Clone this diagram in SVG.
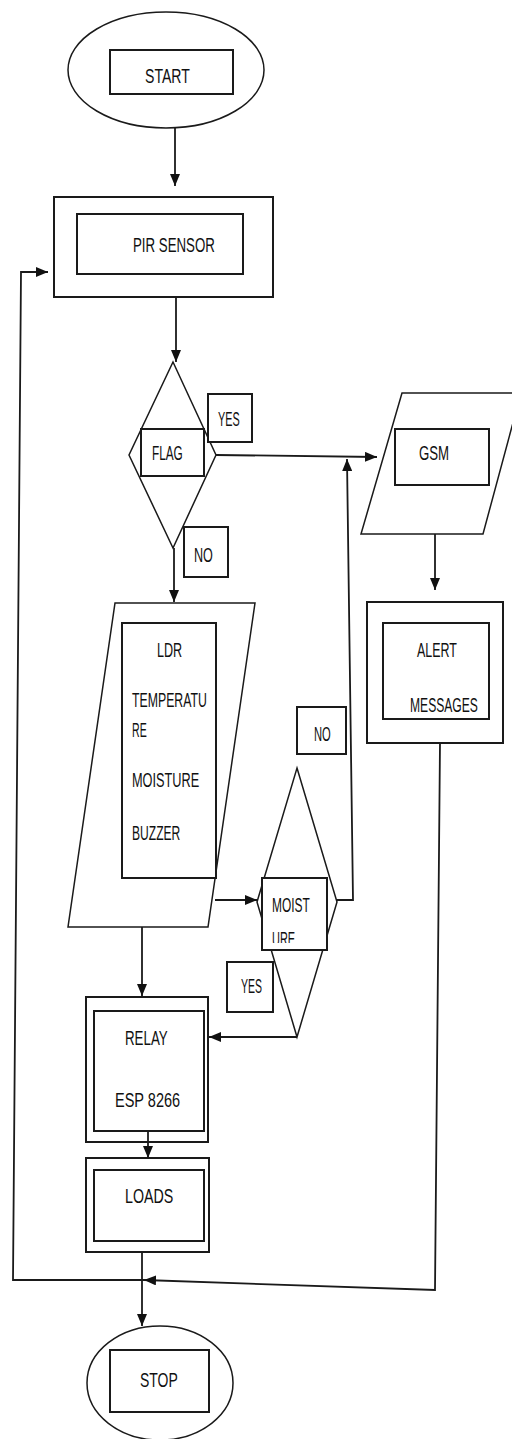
<svg xmlns="http://www.w3.org/2000/svg" width="512" height="1439" viewBox="0 0 512 1439">
<style>
.bg{fill:#fff}
.sh{fill:#fff;stroke:#1a1a1a;stroke-width:1.5}
.bx{fill:#fff;stroke:#1a1a1a;stroke-width:2}
.ln{fill:none;stroke:#1a1a1a;stroke-width:1.8}
.t{font-family:"Liberation Sans",Arial,sans-serif;font-size:21px;fill:#111}
</style>
<defs>
<marker id="ar" markerUnits="userSpaceOnUse" markerWidth="12" markerHeight="10" refX="12" refY="5" orient="auto">
<path d="M0,0 L12,5 L0,10 z" fill="#111"/>
</marker>
<clipPath id="mc"><rect x="262" y="878" width="65" height="65"/></clipPath>
</defs>
<rect class="bg" x="0" y="0" width="512" height="1439"/>

<g id="start">
<ellipse class="sh" cx="166" cy="70" rx="98" ry="58"/>
<rect class="bx" x="110" y="50" width="123" height="44"/>
<text class="t" transform="translate(145,83) scale(0.7,1)" textLength="64" lengthAdjust="spacingAndGlyphs">START</text>
</g>

<g id="pir">
<rect class="bx" x="54" y="197" width="219" height="100"/>
<rect class="bx" x="77" y="214" width="166" height="60"/>
<text class="t" transform="translate(133,252) scale(0.7,1)" textLength="117" lengthAdjust="spacingAndGlyphs">PIR SENSOR</text>
</g>

<g id="flag">
<polygon class="sh" points="173,362 216,455 173,548 129,455"/>
<rect class="bx" x="141" y="429" width="63" height="47"/>
<text class="t" transform="translate(152,460) scale(0.7,1)" textLength="44" lengthAdjust="spacingAndGlyphs">FLAG</text>
</g>

<g id="flag-yes">
<rect class="bx" x="208" y="394" width="44" height="48"/>
<text class="t" transform="translate(218,426) scale(0.7,1)" textLength="31" lengthAdjust="spacingAndGlyphs">YES</text>
</g>

<g id="flag-no">
<rect class="bx" x="184" y="527" width="44" height="50"/>
<text class="t" transform="translate(194,562) scale(0.7,1)" textLength="27" lengthAdjust="spacingAndGlyphs">NO</text>
</g>

<g id="gsm">
<polygon class="sh" points="402,393 521,393 483,534 361,534"/>
<rect class="bx" x="395" y="429" width="94" height="56"/>
<text class="t" transform="translate(419,460) scale(0.7,1)" textLength="43" lengthAdjust="spacingAndGlyphs">GSM</text>
</g>

<g id="alert">
<rect class="bx" x="367" y="602" width="136" height="141"/>
<rect class="bx" x="383" y="623" width="106" height="96"/>
<text class="t" transform="translate(417,657) scale(0.7,1)" textLength="57" lengthAdjust="spacingAndGlyphs">ALERT</text>
<text class="t" transform="translate(410,712) scale(0.7,1)" textLength="97" lengthAdjust="spacingAndGlyphs">MESSAGES</text>
</g>

<g id="sensors">
<polygon class="sh" points="115,603 255,603 208,927 68,927"/>
<rect class="bx" x="122" y="623" width="94" height="255"/>
<text class="t" transform="translate(157,657) scale(0.7,1)" textLength="36" lengthAdjust="spacingAndGlyphs">LDR</text>
<text class="t" transform="translate(132,707) scale(0.7,1)" textLength="107" lengthAdjust="spacingAndGlyphs">TEMPERATU</text>
<text class="t" transform="translate(132,737) scale(0.7,1)" textLength="21" lengthAdjust="spacingAndGlyphs">RE</text>
<text class="t" transform="translate(132,787) scale(0.7,1)" textLength="96" lengthAdjust="spacingAndGlyphs">MOISTURE</text>
<text class="t" transform="translate(132,840) scale(0.7,1)" textLength="69" lengthAdjust="spacingAndGlyphs">BUZZER</text>
</g>

<g id="moisture">
<polygon class="sh" points="297,768 337,902 297,1037 257,902"/>
<rect class="bx" x="262" y="878" width="65" height="72"/>
<text class="t" transform="translate(272,912) scale(0.7,1)" textLength="54" lengthAdjust="spacingAndGlyphs">MOIST</text>
<g clip-path="url(#mc)">
<text class="t" transform="translate(272,946) scale(0.7,1)" textLength="33" lengthAdjust="spacingAndGlyphs">URE</text>
</g>
</g>

<g id="moist-no">
<rect class="bx" x="297" y="707" width="49" height="47"/>
<text class="t" transform="translate(314,741) scale(0.7,1)" textLength="24" lengthAdjust="spacingAndGlyphs">NO</text>
</g>

<g id="moist-yes">
<rect class="bx" x="227" y="962" width="46" height="50"/>
<text class="t" transform="translate(241,993) scale(0.7,1)" textLength="30" lengthAdjust="spacingAndGlyphs">YES</text>
</g>

<g id="relay">
<rect class="bx" x="86" y="997" width="122" height="145"/>
<rect class="bx" x="94" y="1011" width="110" height="120"/>
<text class="t" transform="translate(125,1045) scale(0.7,1)" textLength="61" lengthAdjust="spacingAndGlyphs">RELAY</text>
<text class="t" transform="translate(115,1107) scale(0.7,1)" textLength="93" lengthAdjust="spacingAndGlyphs">ESP 8266</text>
</g>

<g id="loads">
<rect class="bx" x="86" y="1158" width="123" height="94"/>
<rect class="bx" x="94" y="1170" width="110" height="71"/>
<text class="t" transform="translate(125,1203) scale(0.7,1)" textLength="69" lengthAdjust="spacingAndGlyphs">LOADS</text>
</g>

<g id="stop">
<ellipse class="sh" cx="160" cy="1383" rx="73" ry="57"/>
<rect class="bx" x="110" y="1350" width="99" height="62"/>
<text class="t" transform="translate(140,1387) scale(0.7,1)" textLength="54" lengthAdjust="spacingAndGlyphs">STOP</text>
</g>

<g id="connectors">
<path class="ln" d="M175,128 L175,186" marker-end="url(#ar)"/>
<path class="ln" d="M176,297 L176,362" marker-end="url(#ar)"/>
<path class="ln" d="M216,455 L377,457" marker-end="url(#ar)"/>
<path class="ln" d="M174,548 L174,602" marker-end="url(#ar)"/>
<path class="ln" d="M435,534 L435,590" marker-end="url(#ar)"/>
<path class="ln" d="M215,900 L257,900" marker-end="url(#ar)"/>
<path class="ln" d="M337,900 L353,900 L347,459" marker-end="url(#ar)"/>
<path class="ln" d="M297,1037 L209,1037" marker-end="url(#ar)"/>
<path class="ln" d="M142,927 L142,996" marker-end="url(#ar)"/>
<path class="ln" d="M148,1131 L148,1158" marker-end="url(#ar)"/>
<path class="ln" d="M142,1252 L142,1326" marker-end="url(#ar)"/>
<path class="ln" d="M440,743 L435,1290 L144,1280" marker-end="url(#ar)"/>
<path class="ln" d="M144,1280 L13,1280 L21,272 L48,272" marker-end="url(#ar)"/>
</g>
</svg>
